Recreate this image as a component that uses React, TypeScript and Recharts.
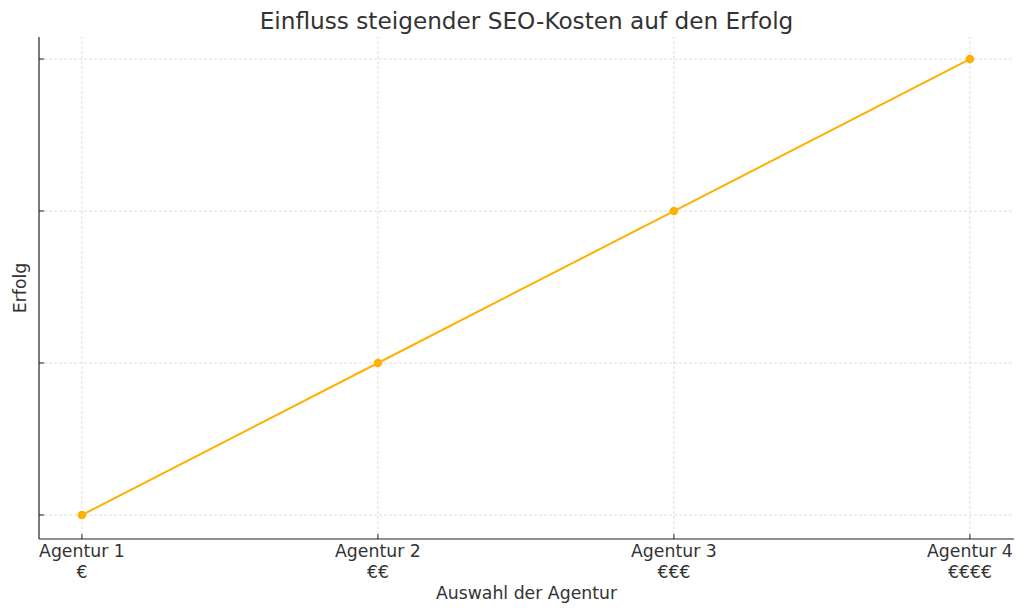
import React from 'react';
import { LineChart, Line, XAxis, YAxis, ReferenceLine } from 'recharts';

const agencies = ['Agentur 1', 'Agentur 2', 'Agentur 3', 'Agentur 4'];
const costs = ['€', '€€', '€€€', '€€€€'];
const positions = [1, 2, 3, 4];
const success = [1, 2, 3, 4];
const yTicks = [1, 2, 3, 4];

const data = positions.map((p, i) => ({ pos: p, erfolg: success[i] }));

const FONT = '"DejaVu Sans", sans-serif';
const TEXT = '#333333';
const GRID = '#d4d4d4';

const XTick = (props: any) => {
  const { x, y, payload } = props;
  const i = positions.indexOf(payload.value);
  return (
    <text x={x} y={y} textAnchor="middle" fill={TEXT} fontSize={17.3} fontFamily={FONT}>
      <tspan x={x} dy="0.71em">{agencies[i]}</tspan>
      <tspan x={x} dy="1.18em">{costs[i]}</tspan>
    </text>
  );
};

export default function App() {
  return (
    <div style={{ position: 'absolute', left: 0, top: 0, width: 1024, height: 614, background: '#fff', fontFamily: FONT }}>
      <div
        style={{
          position: 'absolute',
          left: 39,
          width: 975,
          top: 7,
          textAlign: 'center',
          fontSize: 23.2,
          lineHeight: '28px',
          color: TEXT,
          fontFamily: FONT,
        }}
      >
        Einfluss steigender SEO-Kosten auf den Erfolg
      </div>
      <LineChart width={1024} height={614} data={data} margin={{ top: 37, right: 10, bottom: 0, left: 0 }}>
        {yTicks.map((v) => (
          <ReferenceLine key={'h' + v} y={v} stroke={GRID} strokeDasharray="3 2" strokeWidth={0.8} />
        ))}
        {positions.map((v) => (
          <ReferenceLine key={'v' + v} x={v} stroke={GRID} strokeDasharray="3 2" strokeWidth={0.8} />
        ))}
        <XAxis
          dataKey="pos"
          type="number"
          domain={[0.855, 4.149]}
          ticks={positions}
          allowDataOverflow
          height={75}
          tickSize={-5}
          tickMargin={11}
          tick={<XTick />}
          axisLine={{ stroke: '#222', strokeWidth: 1.2 }}
          tickLine={{ stroke: '#222' }}
          label={{ value: 'Auswahl der Agentur', position: 'insideBottom', offset: 15, fill: TEXT, fontSize: 17.3, fontFamily: FONT }}
        />
        <YAxis
          type="number"
          domain={[0.842, 4.145]}
          ticks={yTicks}
          allowDataOverflow
          width={39}
          tickSize={-5}
          tick={() => <g />}
          axisLine={{ stroke: '#222', strokeWidth: 1.2 }}
          tickLine={{ stroke: '#222' }}
          label={{ value: 'Erfolg', angle: -90, position: 'center', fill: TEXT, fontSize: 17.3, fontFamily: FONT }}
        />
        <Line
          dataKey="erfolg"
          stroke="#FFB000"
          strokeWidth={2}
          dot={{ r: 4.3, fill: '#FFB000', stroke: '#FFB000', strokeWidth: 0 }}
          isAnimationActive={false}
        />
      </LineChart>
    </div>
  );
}
